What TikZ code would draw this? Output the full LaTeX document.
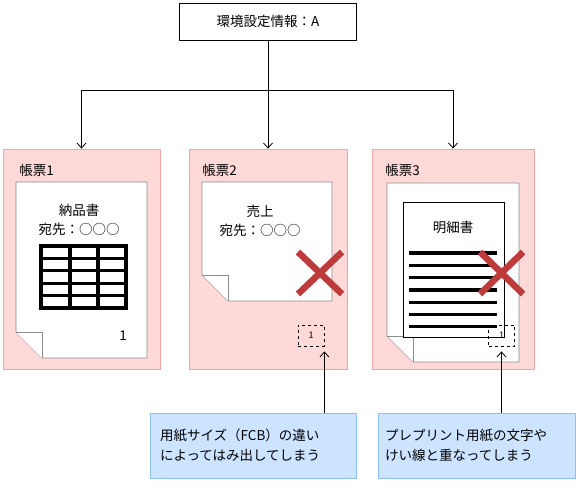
\documentclass[tikz,border=0pt]{standalone}
\usepackage{fontspec}
\setmainfont{Noto Sans CJK JP}
\usetikzlibrary{arrows.meta,positioning}
\definecolor{panelfill}{HTML}{FFD8D8}
\definecolor{panelline}{HTML}{F2A3A3}
\definecolor{notefill}{HTML}{CCE4FF}
\definecolor{noteline}{HTML}{8DC0F0}
\definecolor{paperline}{HTML}{8C8C8C}
\definecolor{crossred}{HTML}{BE3B3B}
\begin{document}
\begin{tikzpicture}[x=1pt,y=-1pt,line width=0.8pt,
    every node/.style={font=\fontsize{13.5}{20}\selectfont},
    arr/.style={-{Straight Barb[length=5pt,width=9pt]}},
    box/.style={draw=black,fill=white,inner sep=0pt},
    panel/.style={draw=panelline,fill=panelfill,inner sep=0pt,minimum height=220pt},
    paper/.style={draw=paperline,fill=white},
    ink/.style={draw=black,line width=3.3pt,line cap=rect},
    cross/.style={draw=crossred,line width=6.5pt},
    dashbox/.style={draw=black,dash pattern=on 3pt off 3pt,minimum width=26pt,minimum height=21pt,
      inner sep=0pt,font=\fontsize{9}{9}\selectfont},
    note/.style={draw=noteline,fill=notefill,align=left,minimum height=65pt}]
  \useasboundingbox (0,0) rectangle (577,484);

  % top box and panels
  \node[box,minimum width=177pt,minimum height=37pt] (env) at (268,21.5) {環境設定情報：A};
  \node[panel,minimum width=157pt] (p1) at (81.5,259) {};
  \node[panel,minimum width=158pt] (p2) at (268,259) {};
  \node[panel,minimum width=162pt] (p3) at (453,259) {};
  \node[anchor=west,inner sep=0pt] (l1) at (19,170) {帳票1};
  \node[anchor=west,inner sep=0pt] (l2) at (202,170) {帳票2};
  \node[anchor=west,inner sep=0pt] (l3) at (385,170) {帳票3};

  \coordinate (hub) at (268,90);
  \draw (env.south) -- (hub);
  \draw[arr] (hub) -| (p1);
  \draw[arr] (hub) -- (p2);
  \draw[arr] (hub) -| (p3);

  % papers with folded corner
  \foreach \xa/\ya/\xb/\yb in {16/182/147/358, 202/182/332/301, 387/183/519/362} {
    \filldraw[paper] (\xa,\ya) -- (\xb,\ya) -- (\xb,\yb) -- (\xa+26,\yb) -- (\xa,\yb-26) -- cycle;
    \draw[paper] (\xa,\yb-26) -- (\xa+26,\yb-26) -- (\xa+26,\yb);
  }

  % 帳票1
  \node (title1) at (79,210) {納品書};
  \node (addr1) at (79,229) {宛先：○○○};
  \foreach \r in {0,...,5}
    \draw[ink] (41,246+\r*12.4) -- (126,246+\r*12.4);
  \foreach \c in {41,70,98,126}
    \draw[ink] (\c,246) -- (\c,308);
  \node (page1) at (123,336) {1};

  % 帳票2
  \node (title2) at (260,211) {売上};
  \node (addr2) at (260,230) {宛先：○○○};
  \node[dashbox] (d2) at (311,335.5) {1};
  \draw[cross] (298,252) -- (342,294) (298,294) -- (342,252);

  % 帳票3
  \filldraw[draw=black,fill=white] (403,202) rectangle (504,337);
  \node (title3) at (453,227) {明細書};
  \foreach \r in {0,...,6}
    \draw[ink,line cap=butt] (409,253+\r*12.3) -- (497,253+\r*12.3);
  \node[dashbox] (d3) at (501.5,335.5) {1};
  \draw[cross] (480,252) -- (523,294) (480,294) -- (523,252);

  % notes
  \node[note,text width=186pt,inner xsep=10pt] (n1) at (253,445.5)
    {用紙サイズ（FCB）の違い\\によってはみ出してしまう};
  \node[note,text width=183pt,inner xsep=7pt] (n2) at (476.5,445.5)
    {プレプリント用紙の文字や\\けい線と重なってしまう};
  \draw[arr,shorten >=5pt] (n1.north -| d2.south east) -- (d2.south east);
  \draw[arr,shorten >=5pt] (n2.north -| d3.south) -- (d3.south);
\end{tikzpicture}
\end{document}
